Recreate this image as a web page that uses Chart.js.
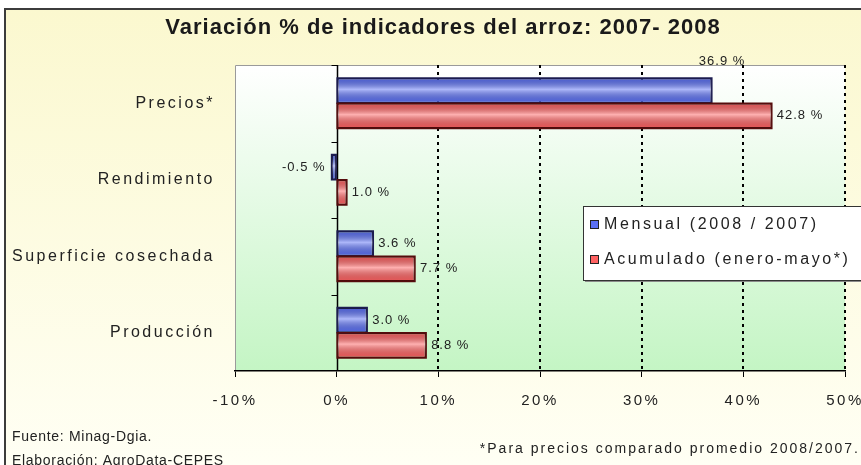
<!DOCTYPE html>
<html>
<head>
<meta charset="utf-8">
<script src="https://cdn.jsdelivr.net/npm/chart.js@4/dist/chart.umd.min.js"></script>
<style>
  html, body { margin: 0; padding: 0; background: #fff; }
  #wrap { width: 861px; height: 465px; }
</style>
</head>
<body>
<div id="wrap"><canvas id="rice-chart" width="861" height="465"></canvas></div>
<script>
const categories = ["Precios*", "Rendimiento", "Superficie cosechada", "Producción"];
const mensual = [36.9, -0.5, 3.6, 3.0];
const acumulado = [42.8, 1.0, 7.7, 8.8];
const seriesNames = ["Mensual (2008 / 2007)", "Acumulado (enero-mayo*)"];
const xTicks = [-10, 0, 10, 20, 30, 40, 50];
const titleText = "Variación % de indicadores del arroz: 2007- 2008";
const sourceLines = ["Fuente: Minag-Dgia.", "Elaboración: AgroData-CEPES"];
const noteText = "*Para precios comparado promedio 2008/2007.";

const FONT = "'Liberation Sans', Arial, sans-serif";
const seriesColors = ["#5b70f5", "#ff6262"];
const seriesBorders = ["#1c1c50", "#550c0c"];

// background, plot area and dotted grid
const framePlugin = {
  id: "frame",
  beforeDraw(chart) {
    const { ctx, chartArea: a, width, height } = chart;
    ctx.save();
    ctx.fillStyle = "#fff";
    ctx.fillRect(0, 0, width, height);
    const bg = ctx.createLinearGradient(0, 9, 0, height);
    bg.addColorStop(0, "#fbf8cf");
    bg.addColorStop(1, "#fffff4");
    ctx.fillStyle = bg;
    ctx.fillRect(5, 9, width, height);
    ctx.strokeStyle = "#3c3c3c";
    ctx.lineWidth = 2;
    ctx.beginPath();
    ctx.moveTo(5, height);
    ctx.lineTo(5, 9);
    ctx.lineTo(width, 9);
    ctx.stroke();

    const pg = ctx.createLinearGradient(0, a.top, 0, a.bottom);
    pg.addColorStop(0, "#ffffff");
    pg.addColorStop(1, "#c4f5c4");
    ctx.fillStyle = pg;
    ctx.fillRect(a.left, a.top, a.right - a.left, a.bottom - a.top);
    ctx.strokeStyle = "#9a9a9a";
    ctx.lineWidth = 1;
    ctx.beginPath();
    ctx.moveTo(a.left + 0.5, a.bottom);
    ctx.lineTo(a.left + 0.5, a.top + 0.5);
    ctx.lineTo(a.right, a.top + 0.5);
    ctx.stroke();
    ctx.restore();
    // axis labels are drawn by the library right after this hook
    ctx.letterSpacing = "2.5px";
  },
  beforeDatasetsDraw(chart) {
    const { ctx, chartArea: a, scales } = chart;
    const x = scales.x;
    ctx.save();
    ctx.letterSpacing = "0px";
    ctx.strokeStyle = "#000";
    ctx.lineWidth = 2;
    ctx.setLineDash([3, 4]);
    xTicks.forEach((t) => {
      if (t <= 0) return;
      const px = Math.round(x.getPixelForValue(t));
      ctx.beginPath();
      ctx.moveTo(px, a.top);
      ctx.lineTo(px, a.bottom);
      ctx.stroke();
    });
    ctx.setLineDash([]);
    const zx = Math.round(x.getPixelForValue(0)) + 0.5;
    ctx.lineWidth = 1.5;
    ctx.beginPath();
    ctx.moveTo(zx, a.top);
    ctx.lineTo(zx, a.bottom);
    ctx.stroke();
    // category tick marks on the zero line
    const y = scales.y;
    const step = (a.bottom - a.top) / categories.length;
    ctx.lineWidth = 1;
    for (let i = 0; i < categories.length; i++) {
      const py = Math.round(y.getPixelForValue(i) - step / 2) + 0.5;
      ctx.beginPath();
      ctx.moveTo(zx - 6, py);
      ctx.lineTo(zx, py);
      ctx.stroke();
    }
    ctx.restore();
  },
};

// bar shading and value labels
const labelPlugin = {
  id: "barLabels",
  afterDatasetsDraw(chart) {
    const { ctx } = chart;
    ctx.save();
    chart.data.datasets.forEach((ds, di) => {
      const meta = chart.getDatasetMeta(di);
      meta.data.forEach((bar, i) => {
        const { x, y, base, height } = bar.getProps(["x", "y", "base", "height"], true);
        const left = Math.min(x, base);
        const w = Math.abs(x - base);
        const top = y - height / 2;
        const g = ctx.createLinearGradient(0, top, 0, top + height);
        g.addColorStop(0, "rgba(0,0,0,0.12)");
        g.addColorStop(0.45, "rgba(255,255,255,0.5)");
        g.addColorStop(1, "rgba(0,0,0,0.08)");
        ctx.fillStyle = g;
        ctx.fillRect(left, top, w, height);
        ctx.strokeStyle = seriesBorders[di];
        ctx.lineWidth = 1.5;
        ctx.strokeRect(left, top, w, height);
      });
    });

    ctx.font = "13px " + FONT;
    ctx.letterSpacing = "1px";
    ctx.fillStyle = "#222";
    ctx.textBaseline = "middle";
    chart.data.datasets.forEach((ds, di) => {
      const meta = chart.getDatasetMeta(di);
      meta.data.forEach((bar, i) => {
        const v = ds.data[i];
        const txt = v.toFixed(1) + " %";
        if (di === 0 && i === 0) {
          // label sits above the plot, like the original
          ctx.textAlign = "left";
          ctx.fillText(txt, bar.x - 13, bar.y - 29);
        } else if (v < 0) {
          ctx.textAlign = "right";
          ctx.fillText(txt, bar.x - 6, bar.y);
        } else {
          ctx.textAlign = "left";
          ctx.fillText(txt, bar.x + 5, bar.y);
        }
      });
    });
    ctx.restore();
  },
  afterDraw(chart) {
    const { ctx, width, height } = chart;
    ctx.save();
    ctx.letterSpacing = "1px";
    ctx.fillStyle = "#1a1a1a";
    ctx.font = "bold 22px " + FONT;
    ctx.textAlign = "center";
    ctx.textBaseline = "middle";
    ctx.fillText(titleText, 443, 28);

    // legend box
    const lx = 583, ly = 206, lw = 290, lh = 74;
    ctx.fillStyle = "#8a8a8a";
    ctx.fillRect(lx + 2, ly + 2, lw, lh);
    ctx.fillStyle = "#fff";
    ctx.fillRect(lx, ly, lw, lh);
    ctx.strokeStyle = "#333";
    ctx.lineWidth = 1;
    ctx.strokeRect(lx + 0.5, ly + 0.5, lw, lh);
    ctx.font = "16px " + FONT;
    ctx.letterSpacing = "2.6px";
    ctx.textAlign = "left";
    seriesNames.forEach((name, i) => {
      const cy = ly + 18 + i * 35;
      ctx.fillStyle = seriesColors[i];
      ctx.fillRect(590, cy - 4, 9, 9);
      ctx.strokeStyle = "#222";
      ctx.strokeRect(590.5, cy - 3.5, 8, 8);
      ctx.fillStyle = "#222";
      ctx.fillText(name, 604, cy + 1);
    });

    // source notes
    ctx.font = "14px " + FONT;
    ctx.letterSpacing = "0.7px";
    ctx.fillText(sourceLines[0], 12, 437);
    ctx.fillText(sourceLines[1], 12, 461);
    ctx.font = "14px " + FONT;
    ctx.letterSpacing = "2px";
    ctx.textAlign = "right";
    ctx.fillText(noteText, 860, 449);
    ctx.restore();
    ctx.letterSpacing = "0px";
  },
};

const chart = new Chart(document.getElementById("rice-chart"), {
  type: "bar",
  data: {
    labels: categories,
    datasets: [
      {
        label: seriesNames[0],
        data: mensual,
        backgroundColor: seriesColors[0],
        borderColor: seriesBorders[0],
        borderWidth: 1.5,
        borderSkipped: false,
      },
      {
        label: seriesNames[1],
        data: acumulado,
        backgroundColor: seriesColors[1],
        borderColor: seriesBorders[1],
        borderWidth: 1.5,
        borderSkipped: false,
      },
    ],
  },
  options: {
    indexAxis: "y",
    responsive: false,
    animation: false,
    layout: { padding: { left: 0, top: 65, right: 16, bottom: 54 } },
    datasets: { bar: { categoryPercentage: 0.66, barPercentage: 1.0 } },
    plugins: {
      legend: { display: false },
      title: { display: false },
      tooltip: { enabled: false },
    },
    scales: {
      x: {
        type: "linear",
        min: -10,
        max: 50,
        ticks: {
          stepSize: 10,
          callback: (v) => v + "%",
          font: { family: FONT, size: 15 },
          color: "#222",
          padding: 15,
          maxRotation: 0,
        },
        grid: { drawOnChartArea: false, drawTicks: true, tickLength: 6, color: "#000", lineWidth: 1 },
        border: { display: true, color: "#000", width: 1.5 },
        afterFit: (s) => {
          s.height = 40;
          s.paddingLeft = 0;
          s.paddingRight = 0;
        },
      },
      y: {
        type: "category",
        ticks: { font: { family: FONT, size: 16 }, color: "#222", padding: 12 },
        grid: { display: false },
        border: { display: false },
        afterFit: (s) => {
          s.width = 235;
        },
      },
    },
  },
  plugins: [framePlugin, labelPlugin],
});
</script>
</body>
</html>
